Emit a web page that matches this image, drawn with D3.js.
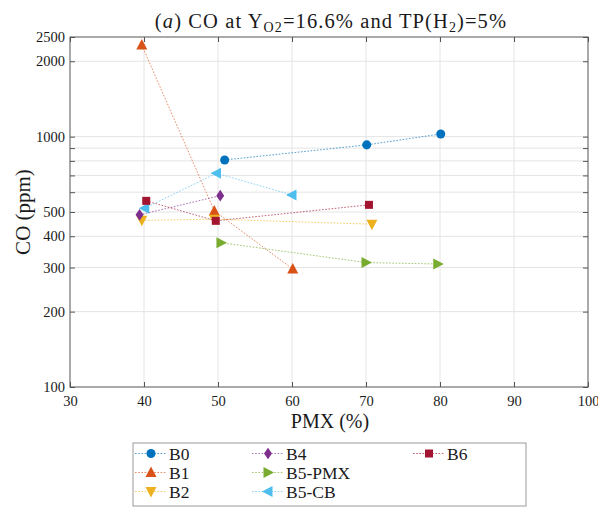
<!DOCTYPE html>
<html>
<head>
<meta charset="utf-8">
<script src="https://cdn.jsdelivr.net/npm/d3@7"></script>
<style>
  html, body { margin: 0; padding: 0; background: #fff; }
  svg { display: block; }
  text { font-family: "Liberation Serif", "DejaVu Serif", serif; fill: #1a1a1a; }
</style>
</head>
<body>
<svg id="chart" width="598" height="507"></svg>
<script>
// Series names (legend order) and their data: PMX share (%) and CO (ppm)
const seriesNames = ["B0", "B1", "B2", "B4", "B5-PMX", "B5-CB", "B6"];

const b0Pmx = [50.9, 70.1, 80.1];
const b0Co = [807, 927, 1025];
const b1Pmx = [39.7, 49.5, 60.1];
const b1Co = [2320, 505, 296];
const b2Pmx = [39.7, 49.5, 70.8];
const b2Co = [463, 468, 447];
const b4Pmx = [39.4, 50.3];
const b4Co = [487, 581];
const b5PmxPmx = [50.4, 70.0, 79.7];
const b5PmxCo = [377, 314, 310];
const b5CbPmx = [40.1, 49.8, 60.0];
const b5CbCo = [518, 714, 585];
const b6Pmx = [40.3, 49.7, 70.4];
const b6Co = [554, 461, 534];

// Axis ticks
const xTicks = [30, 40, 50, 60, 70, 80, 90, 100];
const yTicksLabelled = [100, 200, 300, 400, 500, 1000, 2000, 2500];
const yTicksMinor = [600, 700, 800, 900];
const yGrid = [200, 300, 400, 500, 600, 700, 800, 900, 1000, 2000];

const seriesStyle = {
  "B0": { color: "#0072BD", shape: "circle" },
  "B1": { color: "#D95319", shape: "up" },
  "B2": { color: "#EDB120", shape: "down" },
  "B4": { color: "#7E2F8E", shape: "diamond" },
  "B5-PMX": { color: "#77AC30", shape: "right" },
  "B5-CB": { color: "#4DBEEE", shape: "left" },
  "B6": { color: "#A2142F", shape: "square" }
};
const seriesValues = [
  [b0Pmx, b0Co], [b1Pmx, b1Co], [b2Pmx, b2Co], [b4Pmx, b4Co],
  [b5PmxPmx, b5PmxCo], [b5CbPmx, b5CbCo], [b6Pmx, b6Co]
];
const seriesData = seriesNames.map((name, i) => ({
  name,
  pmx: seriesValues[i][0],
  co: seriesValues[i][1],
  ...seriesStyle[name]
}));

const svg = d3.select("#chart");
const plotLeft = 70, plotRight = 588, plotTop = 37, plotBottom = 387;

const x = d3.scaleLinear().domain([30, 100]).range([plotLeft, plotRight]);
const y = d3.scaleLog().domain([100, 2500]).range([plotBottom, plotTop]);

const axisColor = "#555";
const gridColor = "#e4e4e4";

// Grid
const grid = svg.append("g");
grid.selectAll("line.gx").data(xTicks.slice(1, -1)).join("line")
  .attr("x1", d => x(d)).attr("x2", d => x(d))
  .attr("y1", plotTop).attr("y2", plotBottom)
  .attr("stroke", gridColor).attr("stroke-width", 1);
grid.selectAll("line.gy").data(yGrid).join("line")
  .attr("x1", plotLeft).attr("x2", plotRight)
  .attr("y1", d => y(d)).attr("y2", d => y(d))
  .attr("stroke", gridColor).attr("stroke-width", 1);

// Axes
function styleAxis(g) {
  g.select(".domain").remove();
  g.selectAll(".tick line").attr("stroke", axisColor);
  g.selectAll(".tick text").attr("fill", "#1a1a1a")
    .style("font-family", '"Liberation Serif", serif').style("font-size", "14.5px");
}

svg.append("g").attr("transform", `translate(0,${plotBottom})`)
  .call(d3.axisBottom(x).tickValues(xTicks).tickFormat(d3.format("d")).tickSizeInner(-5).tickSizeOuter(0).tickPadding(9))
  .call(styleAxis);
svg.append("g").attr("transform", `translate(0,${plotTop})`)
  .call(d3.axisTop(x).tickValues(xTicks).tickFormat("").tickSizeInner(-5).tickSizeOuter(0))
  .call(styleAxis);
svg.append("g").attr("transform", `translate(${plotLeft},0)`)
  .call(d3.axisLeft(y).tickValues(yTicksLabelled).tickFormat(d3.format("d")).tickSizeInner(-5).tickSizeOuter(0).tickPadding(5))
  .call(styleAxis);
svg.append("g").attr("transform", `translate(${plotLeft},0)`)
  .call(d3.axisLeft(y).tickValues(yTicksMinor).tickFormat("").tickSizeInner(-5).tickSizeOuter(0))
  .call(styleAxis);
svg.append("g").attr("transform", `translate(${plotRight},0)`)
  .call(d3.axisRight(y).tickValues(yTicksLabelled.concat(yTicksMinor)).tickFormat("").tickSizeInner(-5).tickSizeOuter(0))
  .call(styleAxis);

// Plot box
svg.append("rect")
  .attr("x", plotLeft).attr("y", plotTop)
  .attr("width", plotRight - plotLeft).attr("height", plotBottom - plotTop)
  .attr("fill", "none").attr("stroke", axisColor).attr("stroke-width", 1);

// Marker shapes
function markerPath(shape) {
  switch (shape) {
    case "circle": return d3.symbol(d3.symbolCircle, 64)();
    case "square": return "M-4,-4H4V4H-4Z";
    case "diamond": return "M0,-5.8L4,0L0,5.8L-4,0Z";
    case "up": return "M0,-6L5.5,4.5L-5.5,4.5Z";
    case "down": return "M0,6L5.5,-4.5L-5.5,-4.5Z";
    case "right": return "M6,0L-4.5,5.5L-4.5,-5.5Z";
    case "left": return "M-6,0L4.5,5.5L4.5,-5.5Z";
  }
}

const line = d3.line().x(d => x(d[0])).y(d => y(d[1]));

const plot = svg.append("g");
seriesData.forEach(s => {
  const pts = s.pmx.map((p, i) => [p, s.co[i]]);
  plot.append("path").datum(pts)
    .attr("d", line)
    .attr("fill", "none").attr("stroke", s.color).attr("stroke-opacity", 0.75)
    .attr("stroke-width", 0.9).attr("stroke-dasharray", "1.6,1.6");
  plot.selectAll(null).data(pts).join("path")
    .attr("transform", d => `translate(${x(d[0])},${y(d[1])})`)
    .attr("d", markerPath(s.shape))
    .attr("fill", s.color);
});

// Title
const title = svg.append("text")
  .attr("x", 331).attr("y", 28)
  .attr("text-anchor", "middle")
  .style("font-size", "20.5px")
  .style("letter-spacing", "1.1px");
title.append("tspan").text("(");
title.append("tspan").style("font-style", "italic").text("a");
title.append("tspan").text(") CO at Y");
title.append("tspan").attr("baseline-shift", "-30%").style("font-size", "14px").text("O2");
title.append("tspan").text("=16.6% and TP(H");
title.append("tspan").attr("baseline-shift", "-30%").style("font-size", "14px").text("2");
title.append("tspan").text(")=5%");

// Axis labels
svg.append("text")
  .attr("x", 330).attr("y", 428)
  .attr("text-anchor", "middle")
  .style("font-size", "20px")
  .text("PMX (%)");
svg.append("text")
  .attr("transform", "translate(30,212) rotate(-90)")
  .attr("text-anchor", "middle")
  .style("font-size", "21px")
  .text("CO (ppm)");

// Legend
const legend = svg.append("g");
legend.append("rect")
  .attr("x", 133).attr("y", 443).attr("width", 393).attr("height", 63)
  .attr("fill", "#fff").attr("stroke", "#9a9a9a").attr("stroke-width", 1);
const colX = [151, 268, 429];
const rowY = [453.5, 472.5, 491.5];
seriesData.forEach((s, i) => {
  const col = Math.floor(i / 3), row = i % 3;
  const cx = colX[col], cy = rowY[row];
  const g = legend.append("g").attr("transform", `translate(${cx},${cy})`);
  g.append("line").attr("x1", -16).attr("x2", 15)
    .attr("stroke", s.color).attr("stroke-opacity", 0.75)
    .attr("stroke-width", 0.9).attr("stroke-dasharray", "1.6,1.6");
  g.append("path").attr("d", markerPath(s.shape)).attr("fill", s.color);
  g.append("text").attr("x", 18).attr("y", 6)
    .style("font-size", "17.5px").text(s.name);
});
</script>
</body>
</html>
